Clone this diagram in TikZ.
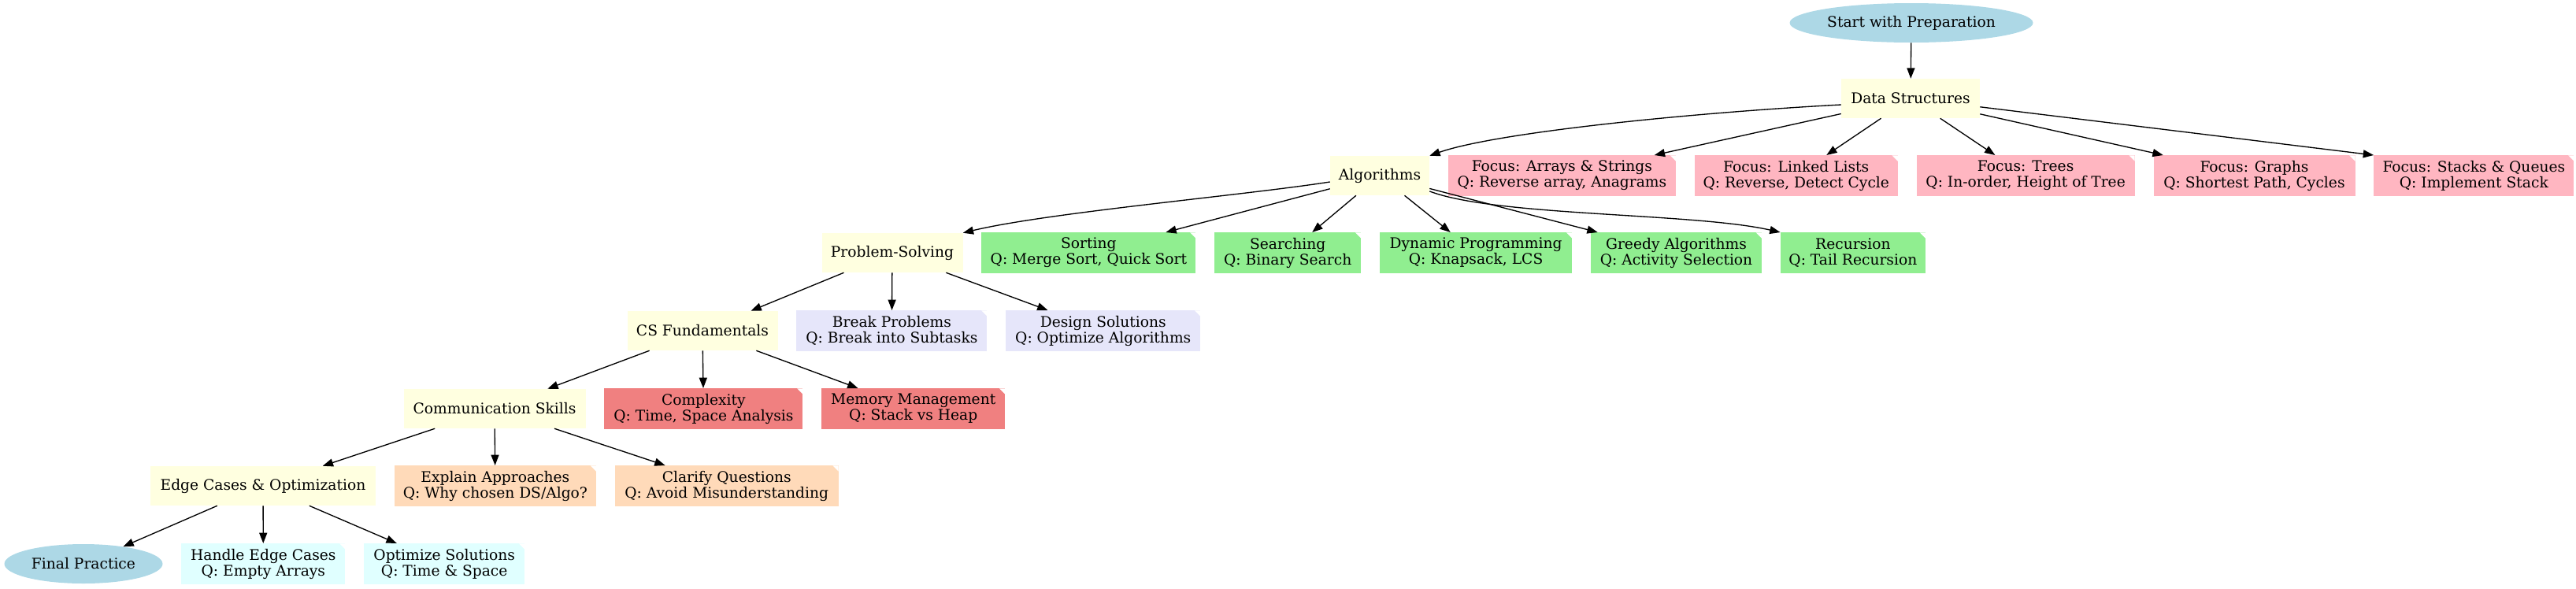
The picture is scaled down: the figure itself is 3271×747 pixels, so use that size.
\documentclass[tikz,border=0pt]{standalone}
\usepackage{fontspec}
\setmainfont{DejaVu Serif}
\usetikzlibrary{positioning,arrows.meta,shapes.geometric}

\definecolor{termblue}{HTML}{ADD8E6}
\definecolor{topicyellow}{HTML}{FFFFE0}
\definecolor{dspink}{HTML}{FFB6C1}
\definecolor{algogreen}{HTML}{90EE90}
\definecolor{solvelavender}{HTML}{E6E6FA}
\definecolor{cscoral}{HTML}{F08080}
\definecolor{commpeach}{HTML}{FFDAB9}
\definecolor{edgecyan}{HTML}{E0FFFF}

\begin{document}
\begin{tikzpicture}[
    x=0.75pt,
    y=-0.75pt,
    font=\fontsize{14}{15}\selectfont,
    node distance=17.5pt,
    wd/.style={minimum width=#1*0.75pt},
    base/.style={
        inner sep=1pt,
        minimum height=37.5pt,
        align=center
    },
    term/.style={base, ellipse, fill=termblue},
    topic/.style={base, rectangle, fill=topicyellow},
    note/.style={
        base,
        rectangle,
        minimum height=38.6pt,
        path picture={
            \fill[white] ([xshift=-5.5pt]path picture bounding box.north east)
                -- (path picture bounding box.north east)
                -- ([yshift=-5.5pt]path picture bounding box.north east) -- cycle;
        }
    },
    dsnote/.style={note, fill=dspink},
    algonote/.style={note, fill=algogreen},
    solvenote/.style={note, fill=solvelavender},
    csnote/.style={note, fill=cscoral},
    commnote/.style={note, fill=commpeach},
    edgenote/.style={note, fill=edgecyan},
    arrow/.style={-{Triangle[length=10pt, width=7.5pt]}, line width=1pt}
]

\useasboundingbox (0,0) rectangle (3271,747);

% ============================================================
% START AND DATA STRUCTURES
% ============================================================
\node[term, wd=309] (start) at (2427,29) {Start with Preparation};
\node[topic, wd=176] (ds) at (2426,125) {Data Structures};

\node[topic, wd=126] (alg) at (1752,223) {Algorithms};
\node[dsnote, wd=289, right=of alg] (arrays) {Focus: Arrays \& Strings\\Q: Reverse array, Anagrams};
\node[dsnote, wd=258, right=of arrays] (lists) {Focus: Linked Lists\\Q: Reverse, Detect Cycle};
\node[dsnote, wd=277, right=of lists] (trees) {Focus: Trees\\Q: In-order, Height of Tree};
\node[dsnote, wd=256, right=of trees] (graphs) {Focus: Graphs\\Q: Shortest Path, Cycles};
\node[dsnote, wd=254, right=of graphs] (stacks) {Focus: Stacks \& Queues\\Q: Implement Stack};

\draw[arrow] (start) -- (ds);
\draw[arrow] ([yshift=-6pt]ds.west) .. controls (2150,143) and (1900,168) .. (alg.north east);
\draw[arrow] (ds) -- (arrays);
\draw[arrow] (ds) -- (lists);
\draw[arrow] (ds) -- (trees);
\draw[arrow] (ds) -- (graphs);
\draw[arrow] (ds) -- (stacks.north west);

% ============================================================
% ALGORITHMS
% ============================================================
\node[topic, wd=179] (probsolve) at (1133,321) {Problem-Solving};
\node[algonote, wd=272, right=of probsolve] (sorting) {Sorting\\Q: Merge Sort, Quick Sort};
\node[algonote, wd=186, right=of sorting] (searching) {Searching\\Q: Binary Search};
\node[algonote, wd=244, right=of searching] (dynprog) {Dynamic Programming\\Q: Knapsack, LCS};
\node[algonote, wd=217, right=of dynprog] (greedy) {Greedy Algorithms\\Q: Activity Selection};
\node[algonote, wd=184, right=of greedy] (recursion) {Recursion\\Q: Tail Recursion};

\draw[arrow] ([yshift=-6pt]alg.west) .. controls (1580,248) and (1330,270) .. (probsolve.north east);
\draw[arrow] (alg) -- (sorting);
\draw[arrow] (alg) -- (searching);
\draw[arrow] (alg) -- (dynprog);
\draw[arrow] (alg) -- (greedy);
\draw[arrow] ([yshift=4pt]alg.south east) .. controls (1900,275) and (2150,270) .. (recursion.north west);

% ============================================================
% PROBLEM-SOLVING AND CS FUNDAMENTALS
% ============================================================
\node[topic, wd=191] (csfund) at (892,420) {CS Fundamentals};
\node[solvenote, wd=242, right=of csfund] (breakprob) {Break Problems\\Q: Break into Subtasks};
\node[solvenote, wd=247, right=of breakprob] (design) {Design Solutions\\Q: Optimize Algorithms};

\draw[arrow] (probsolve) -- (csfund);
\draw[arrow] (probsolve) -- (breakprob);
\draw[arrow] (probsolve) -- (design);

\node[topic, wd=231] (comm) at (628,519) {Communication Skills};
\node[csnote, wd=252, right=of comm] (complexity) {Complexity\\Q: Time, Space Analysis};
\node[csnote, wd=233, right=of complexity] (memory) {Memory Management\\Q: Stack vs Heap};

\draw[arrow] (csfund) -- (comm);
\draw[arrow] (csfund) -- (complexity);
\draw[arrow] (csfund) -- (memory);

% ============================================================
% COMMUNICATION AND EDGE CASES
% ============================================================
\node[topic, wd=286] (edgecases) at (334,617) {Edge Cases \& Optimization};
\node[commnote, wd=256, right=of edgecases] (explain) {Explain Approaches\\Q: Why chosen DS/Algo?};
\node[commnote, wd=284, right=of explain] (clarify) {Clarify Questions\\Q: Avoid Misunderstanding};

\draw[arrow] (comm) -- (edgecases);
\draw[arrow] (comm) -- (explain);
\draw[arrow] (comm) -- (clarify);

\node[term, wd=201, minimum height=37.5pt] (final) at (106,716) {Final Practice};
\node[edgenote, wd=208, right=of final] (handle) {Handle Edge Cases\\Q: Empty Arrays};
\node[edgenote, wd=204, right=of handle] (optimize) {Optimize Solutions\\Q: Time \& Space};

\draw[arrow] (edgecases) -- (final);
\draw[arrow] (edgecases) -- (handle);
\draw[arrow] (edgecases) -- (optimize);

\end{tikzpicture}
\end{document}
